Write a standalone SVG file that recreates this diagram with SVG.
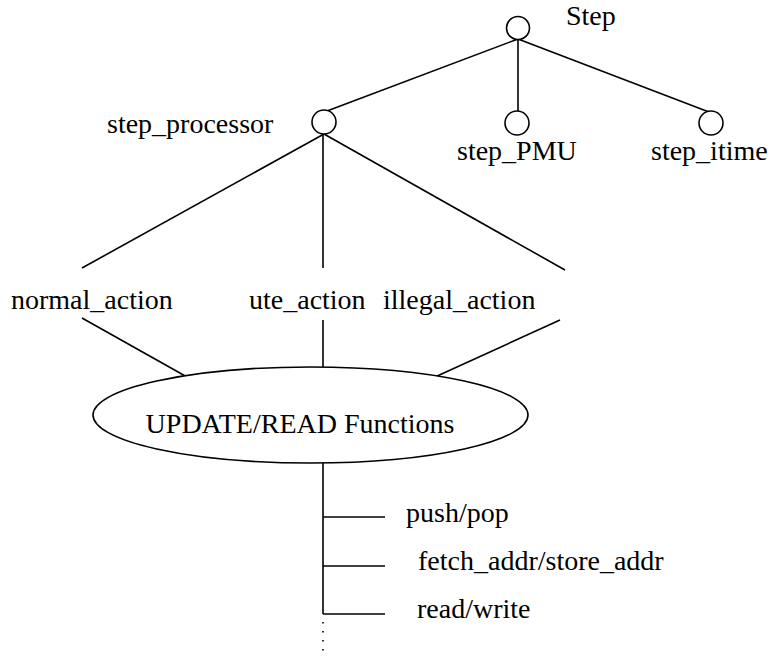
<svg xmlns="http://www.w3.org/2000/svg" width="771" height="656" viewBox="0 0 771 656">
<style>
.t{font-size:28px;fill:#000}
.n{fill:#fff;stroke:#000;stroke-width:1.6}
.c line{stroke:#000;stroke-width:1.6}
</style>
<rect width="771" height="656" fill="#fff"/>
<g id="connectors" class="c">
<line x1="518" y1="39" x2="327" y2="111"/>
<line x1="518" y1="39" x2="518" y2="111"/>
<line x1="518" y1="39" x2="709" y2="112"/>
<line x1="324" y1="134" x2="82" y2="268"/>
<line x1="323" y1="134" x2="323" y2="268"/>
<line x1="324" y1="134" x2="565" y2="270"/>
<line x1="82" y1="318" x2="187" y2="377"/>
<line x1="323" y1="320" x2="323" y2="367"/>
<line x1="560" y1="320" x2="435" y2="377"/>
<line x1="323" y1="463" x2="323" y2="614"/>
<line x1="323" y1="517" x2="385" y2="517"/>
<line x1="323" y1="566" x2="385" y2="566"/>
<line x1="323" y1="614" x2="385" y2="614"/>
<line x1="323" y1="622" x2="323" y2="656" stroke-dasharray="1.6 7.4"/>
</g>
<g font-family="Liberation Serif, DejaVu Serif, serif">
<g id="step"><circle class="n" cx="518" cy="28" r="11.5"/><text class="t" x="566" y="25">Step</text></g>
<g id="step_processor"><circle class="n" cx="324" cy="122" r="12"/><text class="t" x="107" y="133">step_processor</text></g>
<g id="step_PMU"><circle class="n" cx="517" cy="123" r="12"/><text class="t" x="457" y="160">step_PMU</text></g>
<g id="step_itime"><circle class="n" cx="711" cy="123" r="12"/><text class="t" x="651" y="160">step_itime</text></g>
<g id="normal_action"><text class="t" x="11" y="309">normal_action</text></g>
<g id="ute_action"><text class="t" x="249" y="309">ute_action</text></g>
<g id="illegal_action"><text class="t" x="383" y="309">illegal_action</text></g>
<g id="update_read"><ellipse class="n" cx="310.5" cy="415" rx="217.5" ry="48"/><text class="t" x="300" y="433" text-anchor="middle">UPDATE/READ Functions</text></g>
<g id="push_pop"><text class="t" x="406" y="522">push/pop</text></g>
<g id="fetch_store"><text class="t" x="418" y="570">fetch_addr/store_addr</text></g>
<g id="read_write"><text class="t" x="417" y="618">read/write</text></g>
</g>
</svg>
